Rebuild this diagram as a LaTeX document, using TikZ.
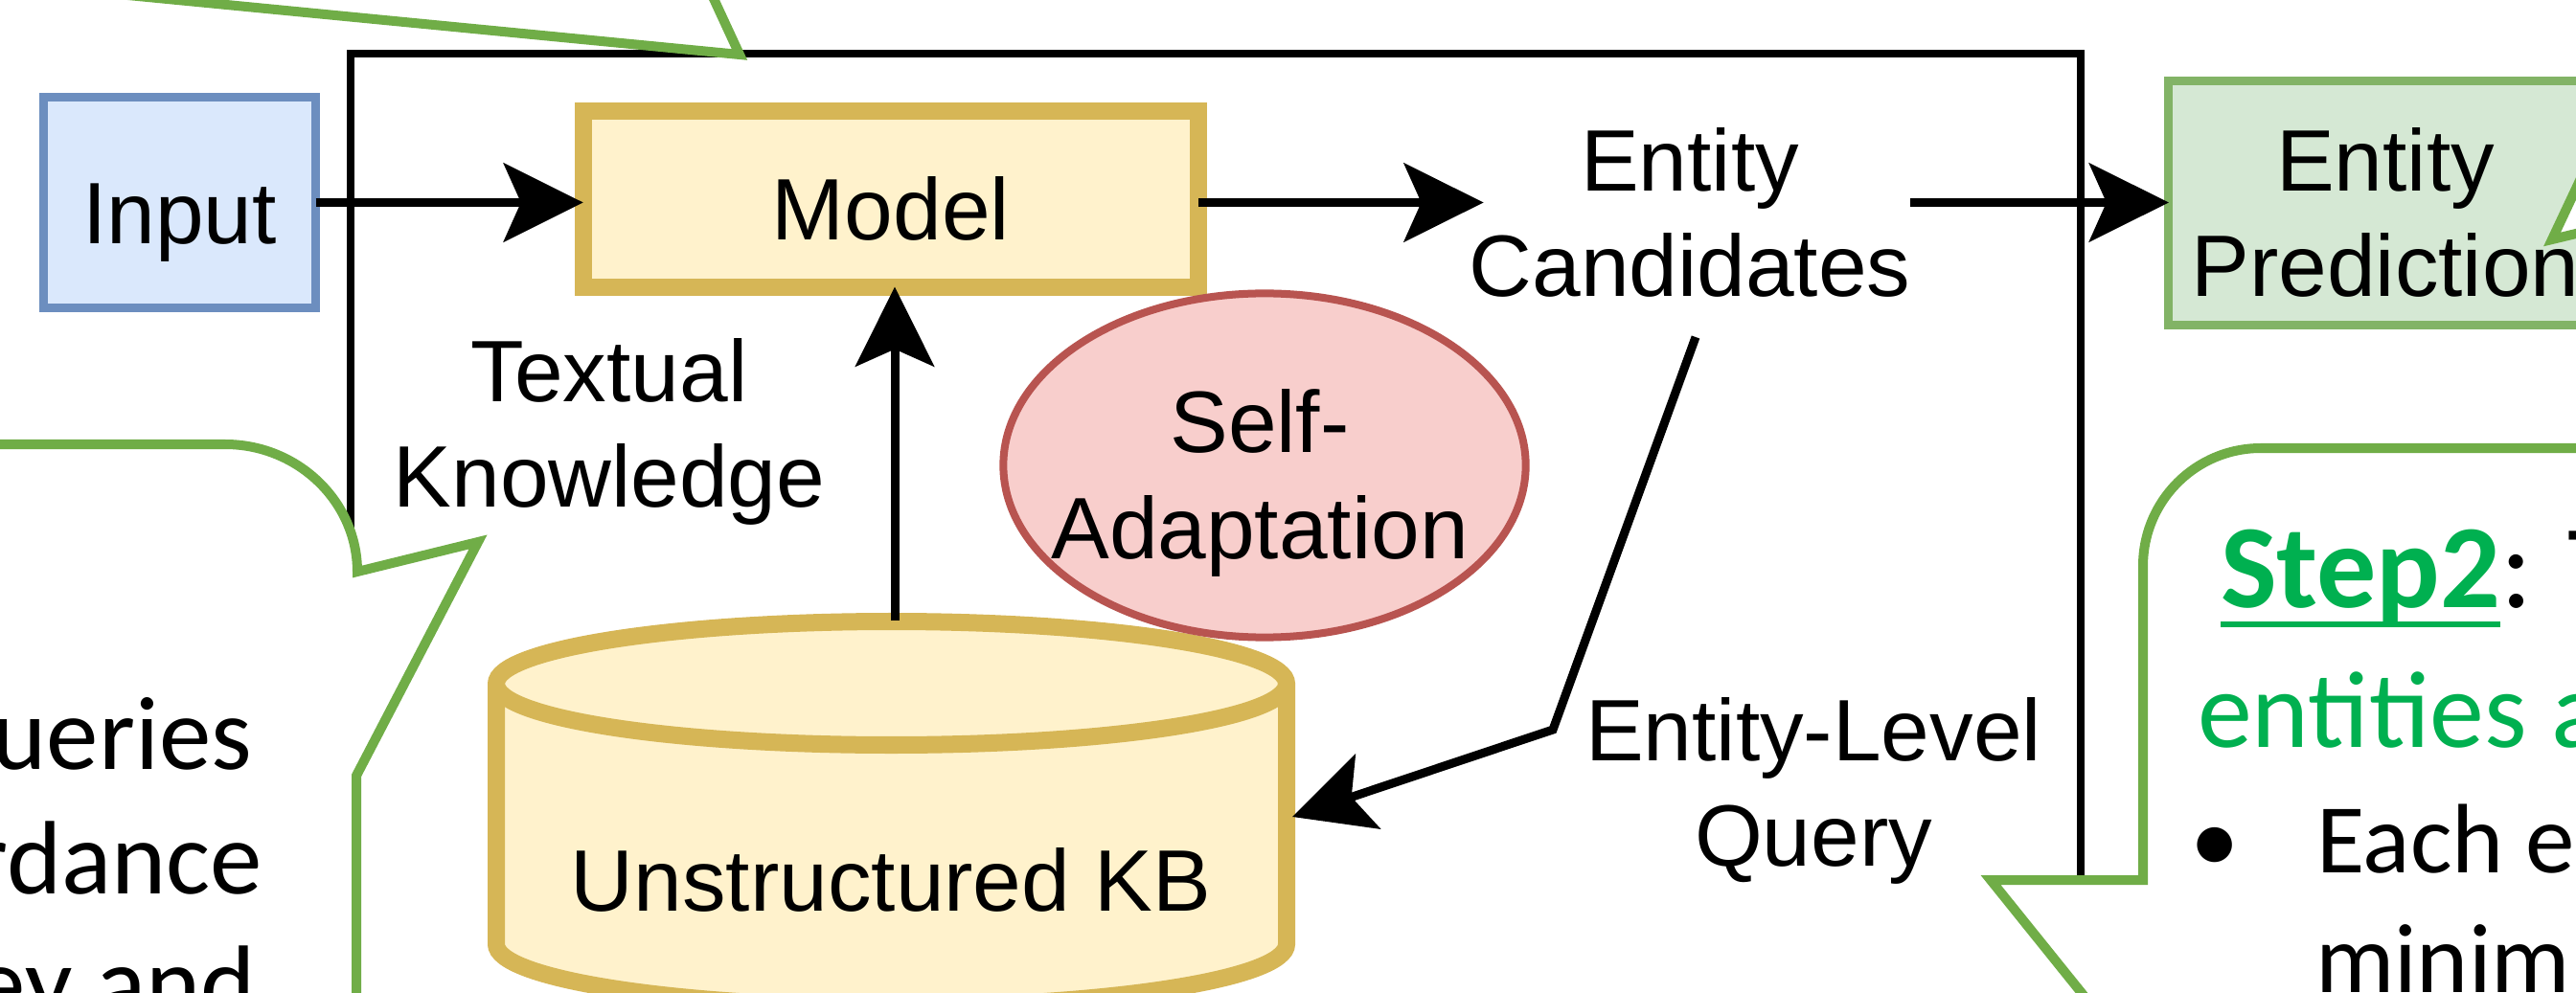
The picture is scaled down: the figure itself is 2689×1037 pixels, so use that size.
\documentclass[tikz,border=0pt]{standalone}
\usepackage{fontspec}
\setmainfont{Liberation Sans}
\newfontfamily\callfont{Carlito}
\usepackage{xcolor}
\usepackage{tikz}
\usetikzlibrary{shapes.geometric,arrows.meta,positioning,calc}
\definecolor{inblue}{HTML}{DAE8FC}
\definecolor{inbluedraw}{HTML}{6C8EBF}
\definecolor{kbyellow}{HTML}{FFF2CC}
\definecolor{kbyellowdraw}{HTML}{D6B656}
\definecolor{adaptred}{HTML}{F8CECC}
\definecolor{adaptreddraw}{HTML}{B85450}
\definecolor{predgreen}{HTML}{D5E8D4}
\definecolor{predgreendraw}{HTML}{82B366}
\definecolor{calloutgreen}{HTML}{70AD47}
\definecolor{steptext}{HTML}{00B050}
\newcommand{\stepul}[1]{\setbox0\hbox{#1}\rlap{\rule[-0.17em]{\wd0}{0.05em}}\box0}

\begin{document}
\begin{tikzpicture}[x=0.01cm,y=-0.01cm,
    every node/.style={outer sep=0pt},
    lbl/.style={align=center,inner sep=0pt,font={\fontsize{25.9pt}{31.3pt}\selectfont}},
    boxtext/.style={lbl,text height=1cm,text depth=0.15cm},
    inbox/.style={draw=inbluedraw,fill=inblue,line width=0.09cm,minimum width=2.84cm,minimum height=2.2cm,boxtext},
    modelbox/.style={draw=kbyellowdraw,fill=kbyellow,line width=0.18cm,minimum width=6.42cm,minimum height=1.83cm,boxtext},
    predbox/.style={draw=predgreendraw,fill=predgreen,line width=0.09cm,minimum width=4.52cm,minimum height=2.55cm},
    adaptell/.style={ellipse,draw=adaptreddraw,fill=adaptred,line width=0.08cm,minimum width=5.45cm,minimum height=3.59cm,inner sep=0pt},
    kbshape/.style={draw=kbyellowdraw,fill=kbyellow,line width=0.18cm},
    flow/.style={-{Stealth[length=0.83cm,width=0.82cm,inset=0.18cm]},line width=0.09cm},
    callout/.style={draw=calloutgreen,fill=white,line width=0.1cm,line join=miter},
    calltext/.style={inner sep=0pt,font={\callfont\fontsize{31pt}{37pt}\selectfont}},
    bullettext/.style={inner sep=0pt,font={\callfont\fontsize{29.3pt}{35pt}\selectfont}}]
  \useasboundingbox (0,0) rectangle (2689,1037);
  \clip (0,0) rectangle (2689,1037);

  \draw[line width=0.085cm] (366,56) rectangle (2172,1120);

  \node[inbox] (input) at (187.5,211.5) {Input};
  \node[modelbox] (model) at (930,208) {Model};
  \node[lbl] (cand) at (1764,221.5) {Entity\\Candidates};
  \node[predbox] (pred) at (2490,212) {};
  \node[lbl] (predlbl) at (2490,221.5) {Entity\\Prediction};
  \node[lbl] (know) at (636,450.5) {Textual\\Knowledge};

  \path[kbshape] (518,714) -- (518,986) .. controls (518,1022) and (702.5,1051) .. (930.5,1051)
    .. controls (1158.5,1051) and (1343,1022) .. (1343,986) -- (1343,714)
    .. controls (1343,678) and (1158.5,649) .. (930.5,649)
    .. controls (702.5,649) and (518,678) .. (518,714) -- cycle;
  \draw[kbshape,fill=none] (518,714) .. controls (518,750) and (702.5,778) .. (930.5,778)
    .. controls (1158.5,778) and (1343,750) .. (1343,714);
  \node[boxtext] (kb) at (930,908.5) {Unstructured KB};
  \coordinate (kbtop) at (934,648);
  \coordinate (kbside) at (1349,853);

  \node[adaptell] (adapt) at (1320,486) {};
  \node[inner sep=0pt,font={\fontsize{25.9pt}{31.3pt}\selectfont}] (adaptlbl) at (1315,506)
    {\begin{tabular}{@{}c@{}}Self-\\Adaptation\end{tabular}};
  \node[lbl] (query) at (1893,825.5) {Entity-Level\\Query};

  \coordinate (qtop) at (1770,352);
  \coordinate (qbend) at (1621,762);

  \draw[flow] (input) -- (input -| model.west);
  \draw[flow,shorten >=-0.15cm] (input -| model.east) -- (input -| cand.west);
  \draw[flow] (input -| cand.east) -- (input -| pred.west);
  \draw[flow] (kbtop) -- (kbtop |- model.south);
  \draw[flow] (qtop) -- (qbend) -- (kbside);

  \draw[callout] (82,-10) -- (772,57) -- (741,-10) -- cycle;
  \draw[callout] (2760,46) -- (2664,250) -- (2760,227) -- cycle;
  \draw[callout] (-30,464) -- (235,464) .. controls (311,464) and (373,524) .. (373,597)
    -- (499,566) -- (372,810) -- (372,1080) -- (-30,1080) -- cycle;
  \draw[callout] (2760,468) -- (2360,468) .. controls (2292,468) and (2237,523) .. (2237,591)
    -- (2237,919) -- (2078,919) -- (2185,1052) -- (2760,1052) -- cycle;

  \node[calltext,anchor=base east] (q1) at (263,803) {ueries};
  \node[calltext,anchor=base east] (q2) at (274,933) {rdance};
  \node[calltext,anchor=base east] (q3) at (267,1063) {ey and};

  \node[anchor=base west,inner sep=0pt,font={\callfont\fontsize{35.3pt}{42pt}\selectfont}] (step) at (2318,634)
    {\textcolor{steptext}{\stepul{\textbf{Step2}}}: T};
  \node[anchor=base west,inner sep=0pt,text=steptext,font={\callfont\fontsize{32.4pt}{39pt}\selectfont}] (ents) at (2294,780) {entities a};
  \node[bullettext,anchor=base] (dot) at (2312,911) {•};
  \node[bullettext,anchor=base west] (each) at (2418,911) {Each e};
  \node[bullettext,anchor=base west] (minim) at (2417,1036) {minim};
\end{tikzpicture}
\end{document}
